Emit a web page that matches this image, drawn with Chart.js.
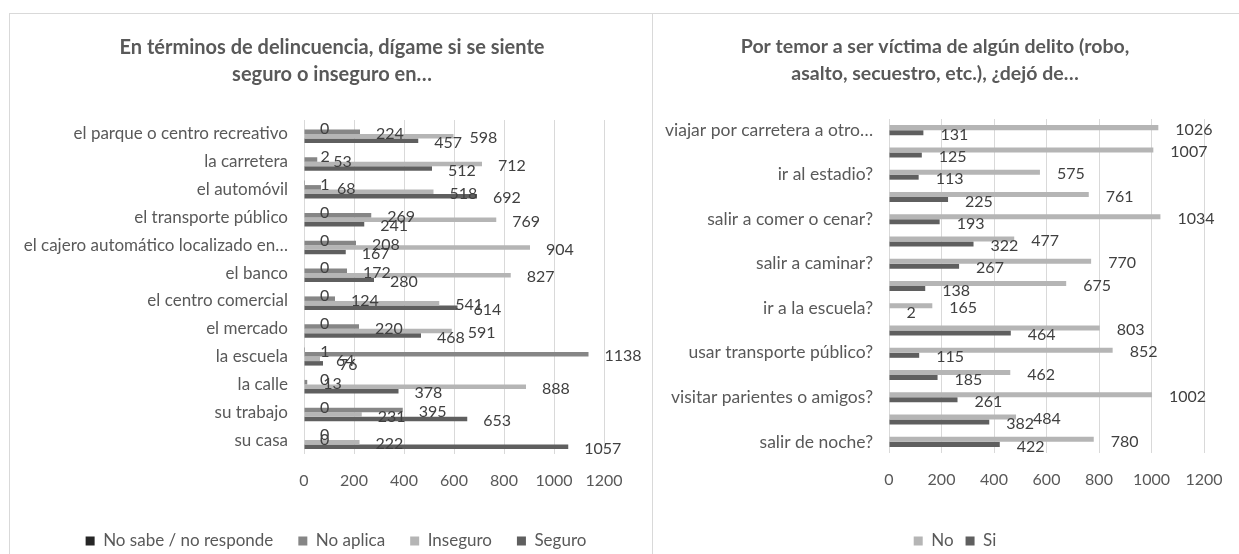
<!DOCTYPE html>
<html><head><meta charset="utf-8">
<script src="https://cdn.jsdelivr.net/npm/chart.js@4.4.1/dist/chart.umd.min.js"></script>
<style>
html,body{margin:0;padding:0;background:#fff;width:1239px;height:554px;overflow:hidden;}
#p1{position:absolute;left:9px;top:13px;width:642px;height:600px;border:1px solid #d9d9d9;border-bottom:none;}
#p2{position:absolute;left:652px;top:13px;width:700px;height:600px;border-top:1px solid #d9d9d9;}
.cw{position:absolute;}
</style></head><body>
<div id="p1"></div><div id="p2"></div>
<div class="cw" style="left:10px;top:14px;width:642px;height:560px"><canvas id="c1"></canvas></div>
<div class="cw" style="left:653px;top:14px;width:586px;height:560px"><canvas id="c2"></canvas></div>
<script>
// ---------- data: left chart ----------
const leftTitle = ["En términos de delincuencia, dígame si se siente", "seguro o inseguro en…"];
const leftCategories = ["el parque o centro recreativo", "la carretera", "el automóvil", "el transporte público",
  "el cajero automático localizado en…", "el banco", "el centro comercial", "el mercado", "la escuela",
  "la calle", "su trabajo", "su casa"];
const noSabe   = [0, 2, 1, 0, 0, 0, 0, 0, 1, 0, 0, 0];
const noAplica = [224, 53, 68, 269, 208, 172, 124, 220, 1138, 13, 395, 0];
const inseguro = [598, 712, 518, 769, 904, 827, 541, 591, 64, 888, 231, 222];
const seguro   = [457, 512, 692, 241, 167, 280, 614, 468, 76, 378, 653, 1057];

// ---------- data: right chart ----------
const rightTitle = ["Por temor a ser víctima de algún delito (robo,", "asalto, secuestro, etc.), ¿dejó de…"];
const rightCategories = ["viajar por carretera a otro…", "", "ir al estadio?", "", "salir a comer o cenar?", "",
  "salir a caminar?", "", "ir a la escuela?", "", "usar transporte público?", "", "visitar parientes o amigos?", "",
  "salir de noche?"];
const noValues = [1026, 1007, 575, 761, 1034, 477, 770, 675, 165, 803, 852, 462, 1002, 484, 780];
const siValues = [131, 125, 113, 225, 193, 322, 267, 138, 2, 464, 115, 185, 261, 382, 422];

const xTicks = [0, 200, 400, 600, 800, 1000, 1200];

// ---------- styling ----------
const FONT = 'Lato, "Open Sans", sans-serif';
Chart.defaults.font.family = FONT;
Chart.defaults.color = '#595959';

const valueLabels = {
  id: 'valueLabels',
  afterDatasetsDraw(chart, args, opts) {
    const ctx = chart.ctx;
    ctx.save();
    ctx.font = opts.size + 'px ' + FONT;
    ctx.fillStyle = opts.color;
    ctx.textAlign = 'left';
    ctx.textBaseline = 'middle';
    chart.data.datasets.forEach((ds, di) => {
      const meta = chart.getDatasetMeta(di);
      meta.data.forEach((el, i) => {
        ctx.fillText(String(ds.data[i]), el.x + opts.dx, el.y + opts.dy);
      });
    });
    ctx.restore();
  }
};
const nudge = {
  id: 'nudge',
  afterLayout(chart, args, opts) {
    const l = chart.legend, t = chart.titleBlock;
    if (l && opts.legendX) { l.left += opts.legendX; l.right += opts.legendX; }
    if (t && opts.titleX) { t.left += opts.titleX; t.right += opts.titleX; }
  }
};

function makeOptions(cfg) {
  return {
    indexAxis: 'y',
    responsive: true,
    maintainAspectRatio: false,
    animation: false,
    layout: { padding: { left: 0, right: cfg.right, top: 0, bottom: 14.5 } },
    scales: {
      x: {
        min: 0, max: 1200,
        afterBuildTicks: s => { s.ticks = xTicks.map(v => ({ value: v })); },
        afterFit: s => { s.height = cfg.xHeight; s.paddingLeft = 0; s.paddingRight = 0; },
        grid: { color: '#d9d9d9', lineWidth: 1, drawTicks: false },
        border: { display: false },
        ticks: { padding: 17, font: { size: 16 }, color: '#595959', maxRotation: 0,
          callback: v => String(v) }
      },
      y: {
        afterFit: s => { s.width = cfg.yWidth; },
        grid: { display: false, drawTicks: false },
        border: { display: false },
        ticks: { padding: 16, font: { size: cfg.catSize }, color: '#595959', autoSkip: false }
      }
    },
    plugins: {
      title: {
        display: true, text: cfg.title, color: '#595959',
        font: { size: cfg.titleSize, weight: 'bold', lineHeight: 27 / cfg.titleSize },
        padding: { top: cfg.titleTop, bottom: cfg.titleBottom }
      },
      legend: {
        position: 'bottom',
        labels: { boxWidth: 9, boxHeight: 9, padding: cfg.legendPad, font: { size: 17 }, color: '#595959' }
      },
      tooltip: { enabled: false },
      valueLabels: { size: 16, color: '#404040', dx: cfg.dx, dy: 2 },
      nudge: { legendX: cfg.legendX, titleX: cfg.titleX }
    }
  };
}

new Chart(document.getElementById('c1'), {
  type: 'bar',
  data: {
    labels: leftCategories,
    datasets: [
      { label: 'No sabe / no responde', data: noSabe, backgroundColor: '#262626' },
      { label: 'No aplica', data: noAplica, backgroundColor: '#868686' },
      { label: 'Inseguro', data: inseguro, backgroundColor: '#b5b5b5' },
      { label: 'Seguro', data: seguro, backgroundColor: '#5f5f5f' }
    ].map(d => Object.assign(d, { borderWidth: 0, categoryPercentage: 0.647, barPercentage: 1 }))
  },
  options: makeOptions({ right: 48, yWidth: 294, xHeight: 53.5, title: leftTitle, titleSize: 20, titleTop: 20, titleBottom: 32,
    legendPad: 25, legendX: 29, titleX: 25, dx: 16, catSize: 17 }),
  plugins: [valueLabels, nudge]
});

new Chart(document.getElementById('c2'), {
  type: 'bar',
  data: {
    labels: rightCategories,
    datasets: [
      { label: 'No', data: noValues, backgroundColor: '#b5b5b5' },
      { label: 'Si', data: siValues, backgroundColor: '#5f5f5f' }
    ].map(d => Object.assign(d, { borderWidth: 0, categoryPercentage: 0.45, barPercentage: 1 }))
  },
  options: makeOptions({ right: 35, yWidth: 236, xHeight: 67.5, title: rightTitle, titleSize: 19.5, titleTop: 19, titleBottom: 32,
    legendPad: 12, legendX: 26.5, titleX: 6.5, dx: 17, catSize: 17.5 }),
  plugins: [valueLabels, nudge]
});
</script>
</body></html>
